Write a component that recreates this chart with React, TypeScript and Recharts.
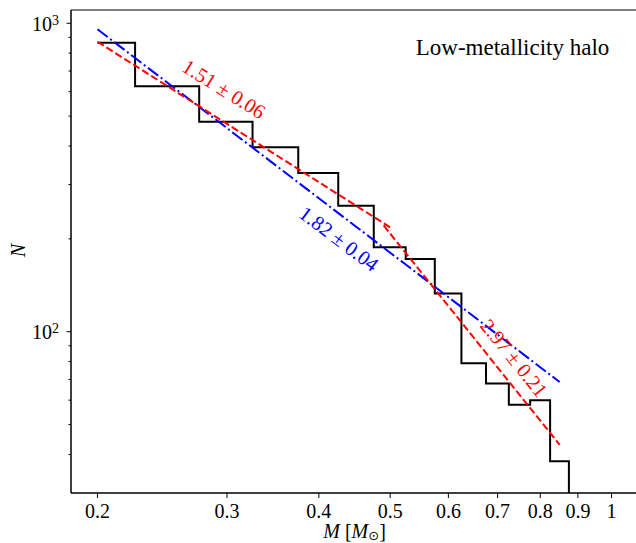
import React from 'react';
import { LineChart, Line, XAxis, YAxis, ReferenceArea, ReferenceDot } from 'recharts';

// Histogram of the low-metallicity halo mass function
const binEdges = [0.2, 0.225, 0.275, 0.325, 0.375, 0.425, 0.475, 0.525, 0.575, 0.625, 0.675, 0.725, 0.775, 0.825, 0.875];
const binCounts = [865, 625, 479, 396, 327, 256, 188, 172, 133, 79, 68, 58, 60, 38];

// Single power-law fit (blue dash-dot)
const blueFitM = [0.2, 0.85];
const blueFitN = [956, 68.7];

// Broken power-law fit (red dashed), two segments
const redFit1M = [0.2, 0.5];
const redFit1N = [871, 218];
const redFit2M = [0.49, 0.85];
const redFit2N = [221, 43];

// Axes
const xDomain: [number, number] = [0.1841, 1.1];
const yDomain: [number, number] = [30, 1104];
const xTicks = [0.2, 0.3, 0.4, 0.5, 0.6, 0.7, 0.8, 0.9, 1];
const xTickLabels = ['0.2', '0.3', '0.4', '0.5', '0.6', '0.7', '0.8', '0.9', '1'];
const yTicks = [40, 50, 60, 70, 80, 90, 100, 200, 300, 400, 500, 600, 700, 800, 900, 1000];
const yMajorTicks = [100, 1000];
const yMajorExponents = ['2', '3'];

// Annotations
const titleText = 'Low-metallicity halo';
const fitLabels = [
  { text: '1.51 ± 0.06', m: 0.297, n: 612, angle: 32, color: '#ff0000' },
  { text: '1.82 ± 0.04', m: 0.426, n: 200, angle: 37, color: '#0000ff' },
  { text: '2.97 ± 0.21', m: 0.737, n: 82.2, angle: 51, color: '#ff0000' },
];
const titlePos = { m: 0.993, n: 789 };

const FONT = '"Liberation Serif", "DejaVu Serif", serif';

const histData = (() => {
  const pts = binCounts.map((c, i) => ({ x: binEdges[i], y: c }));
  pts.push({ x: binEdges[binEdges.length - 1], y: binCounts[binCounts.length - 1] });
  pts.push({ x: binEdges[binEdges.length - 1], y: yDomain[0] });
  return pts;
})();
const toPts = (ms: number[], ns: number[]) => ms.map((m, i) => ({ x: m, y: ns[i] }));
const blueData = toPts(blueFitM, blueFitN);
const red1Data = toPts(redFit1M, redFit1N);
const red2Data = toPts(redFit2M, redFit2N);

const XTick = (props: any) => {
  const { x, y, payload } = props;
  const idx = xTicks.indexOf(payload.value);
  return (
    <g>
      <line x1={x} y1={y} x2={x} y2={y + 5} stroke="#000" strokeWidth={1} />
      <text x={x} y={y + 24.5} textAnchor="middle" fontSize={20} fontFamily={FONT} fill="#000">
        {idx >= 0 ? xTickLabels[idx] : ''}
      </text>
    </g>
  );
};

const YTick = (props: any) => {
  const { x, y, payload } = props;
  const mi = yMajorTicks.indexOf(payload.value);
  const len = mi >= 0 ? 4.5 : 2.5;
  return (
    <g>
      <line x1={x - len} y1={y} x2={x} y2={y} stroke="#000" strokeWidth={1} />
      {mi >= 0 && (
        <text x={x - 12} y={y + 7.5} textAnchor="end" fontSize={20} fontFamily={FONT} fill="#000">
          10<tspan dy={-6} fontSize={14}>{yMajorExponents[mi]}</tspan>
        </text>
      )}
    </g>
  );
};

const rotLabel = (text: string, angle: number, color: string) => (p: any) => {
  const vb = p.viewBox || {};
  const cx = vb.x + (vb.width || 0) / 2;
  const cy = vb.y + (vb.height || 0) / 2;
  return (
    <text
      x={cx}
      y={cy}
      transform={`rotate(${angle} ${cx} ${cy})`}
      textAnchor="middle"
      dominantBaseline="central"
      fill={color}
      fontSize={20.5}
      fontFamily={FONT}
    >
      {text}
    </text>
  );
};

const titleLabel = (p: any) => {
  const vb = p.viewBox || {};
  const cx = vb.x + (vb.width || 0) / 2;
  const cy = vb.y + (vb.height || 0) / 2;
  return (
    <text x={cx} y={cy} textAnchor="end" fill="#000" fontSize={23} fontFamily={FONT}>
      {titleText}
    </text>
  );
};

const xLabel = (p: any) => {
  const vb = p.viewBox || {};
  const cx = vb.x + vb.width / 2 - 2;
  const by = vb.y + 44.5;
  return (
    <text x={cx} y={by} textAnchor="middle" fill="#000" fontSize={20} fontFamily={FONT}>
      <tspan fontStyle="italic">M</tspan>
      <tspan> [</tspan>
      <tspan fontStyle="italic">M</tspan>
      <tspan dy={2.5} fontSize={13} fontFamily='"DejaVu Sans", sans-serif'>⊙</tspan>
      <tspan dy={-2.5}>]</tspan>
    </text>
  );
};

const yLabel = (p: any) => {
  const vb = p.viewBox || {};
  const bx = 25;
  const cy = vb.y + vb.height / 2 - 1;
  return (
    <text x={bx} y={cy} transform={`rotate(-90 ${bx} ${cy})`} textAnchor="middle" fill="#000" fontSize={20} fontStyle="italic" fontFamily={FONT}>
      N
    </text>
  );
};

export default function App() {
  return (
    <div style={{ position: 'absolute', left: 0, top: 0, width: 636, height: 543, overflow: 'hidden', background: '#fff' }}>
      <LineChart width={660} height={543} margin={{ top: 10, right: 18, bottom: 0, left: 0 }}>
        <XAxis
          dataKey="x"
          type="number"
          scale="log"
          domain={xDomain}
          allowDataOverflow
          ticks={xTicks}
          interval={0}
          tickSize={0}
          tickMargin={0}
          tickLine={false}
          tick={XTick}
          axisLine={{ stroke: '#000', strokeWidth: 1 }}
          height={50}
          label={xLabel}
        />
        <YAxis
          dataKey="y"
          type="number"
          scale="log"
          domain={yDomain}
          allowDataOverflow
          ticks={yTicks}
          interval={0}
          tickSize={0}
          tickMargin={0}
          tickLine={false}
          tick={YTick}
          axisLine={{ stroke: '#000', strokeWidth: 1 }}
          width={71}
          label={yLabel}
        />
        <ReferenceArea x1={xDomain[0]} x2={xDomain[1]} y1={yDomain[0]} y2={yDomain[1]} fill="none" stroke="#000" strokeWidth={1} ifOverflow="visible" />
        <Line data={histData} dataKey="y" type="stepAfter" stroke="#000" strokeWidth={2} dot={false} isAnimationActive={false} />
        <Line data={blueData} dataKey="y" type="linear" stroke="#0000ff" strokeWidth={2} strokeDasharray="12.8 3.2 2 3.2" dot={false} isAnimationActive={false} />
        <Line data={red1Data} dataKey="y" type="linear" stroke="#ff0000" strokeWidth={2} strokeDasharray="7.4 3.2" dot={false} isAnimationActive={false} />
        <Line data={red2Data} dataKey="y" type="linear" stroke="#ff0000" strokeWidth={2} strokeDasharray="7.4 3.2" dot={false} isAnimationActive={false} />
        {fitLabels.map((l) => (
          <ReferenceDot key={l.text} x={l.m} y={l.n} r={0} fill="none" stroke="none" ifOverflow="visible" label={rotLabel(l.text, l.angle, l.color)} />
        ))}
        <ReferenceDot x={titlePos.m} y={titlePos.n} r={0} fill="none" stroke="none" ifOverflow="visible" label={titleLabel} />
      </LineChart>
    </div>
  );
}
